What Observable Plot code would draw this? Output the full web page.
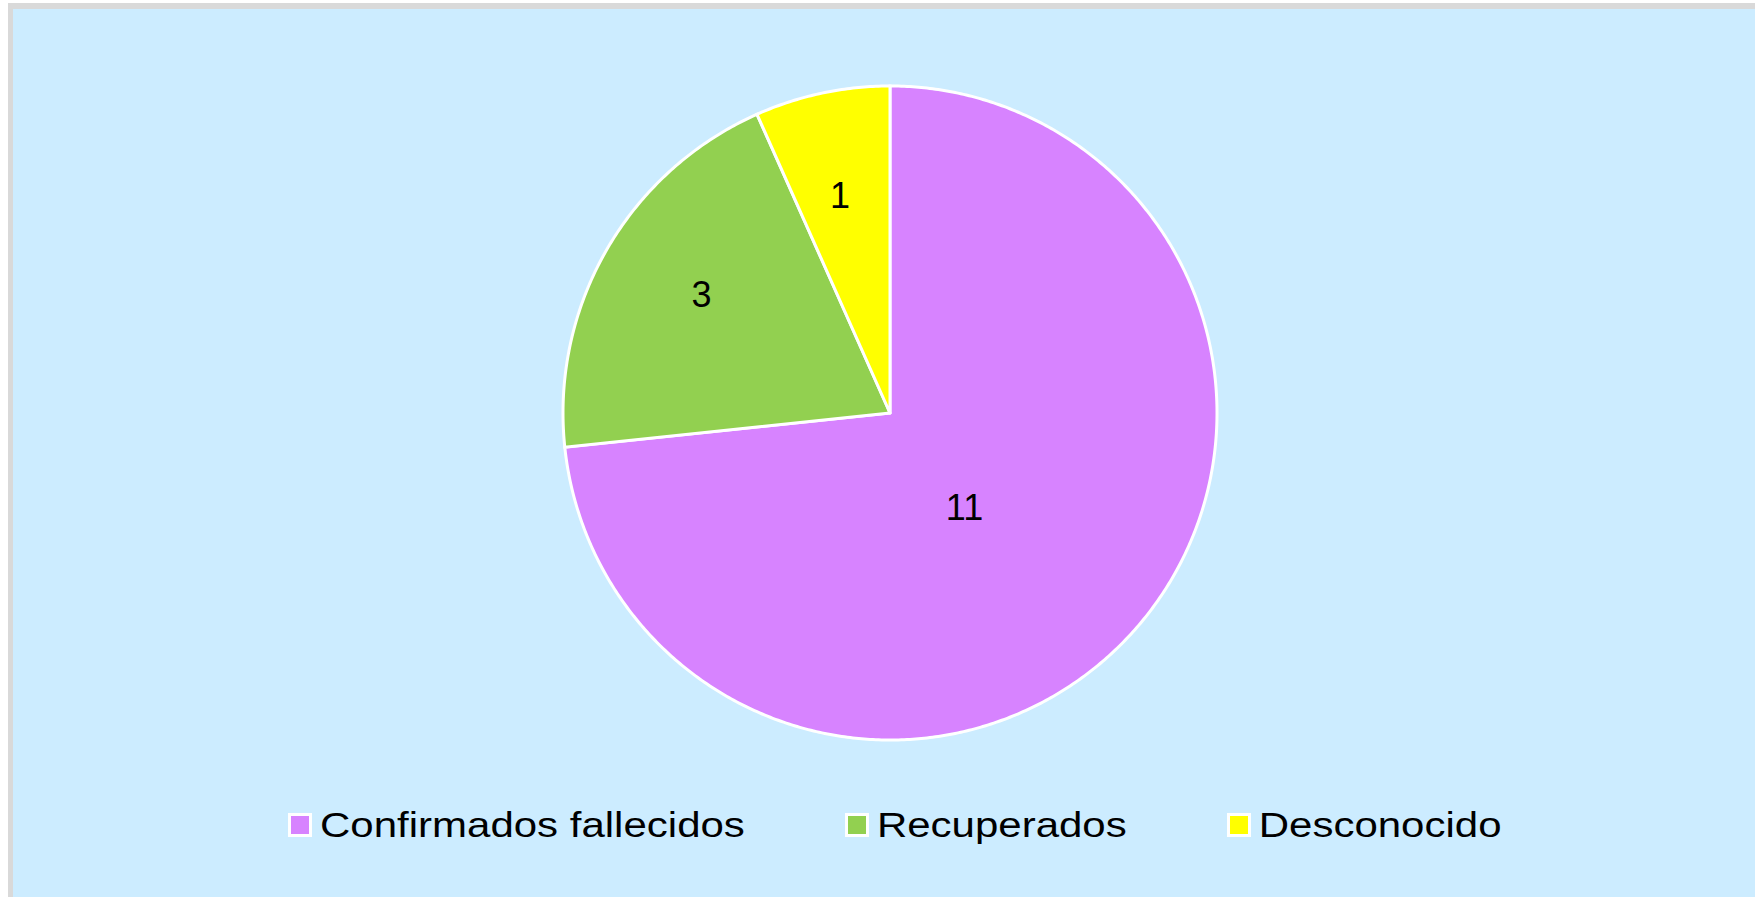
<!DOCTYPE html>
<html>
<head>
<meta charset="utf-8">
<script src="https://cdn.jsdelivr.net/npm/d3@7"></script>
<script src="https://cdn.jsdelivr.net/npm/@observablehq/plot@0.6"></script>
<style>
  html, body { margin: 0; padding: 0; background: #ffffff; }
  body { width: 1755px; height: 897px; position: relative; overflow: hidden; font-family: "Liberation Sans", Arial, sans-serif; }
  #frame { position: absolute; left: 8px; top: 3px; right: 0; bottom: 0; background: #D9D9D9; }
  #panel { position: absolute; left: 13px; top: 9px; right: 0; bottom: 0; background: #CCECFF; }
  #chart { position: absolute; left: 0; top: 0; }
  #legend { position: absolute; left: 288px; top: 804px; display: flex; align-items: center; gap: 100px; }
  .item { display: flex; align-items: center; height: 42px; }
  .sw { width: 18px; height: 18px; border: 3.5px solid #ffffff; margin-right: 8px; }
  .lbl { font-size: 42px; line-height: 42px; height: 42px; color: #000; white-space: nowrap; display: inline-block; transform: scaleY(0.84); transform-origin: 50% 50%; }
</style>
</head>
<body>
<div id="frame"></div>
<div id="panel"></div>
<div id="chart"></div>
<div id="legend"></div>
<script>
const categories = ["Confirmados fallecidos", "Recuperados", "Desconocido"];
const values = [11, 3, 1];
const colors = ["#D783FF", "#92D050", "#FFFF00"];

const table = categories.map((name, i) => ({name, value: values[i]}));
const arcs = d3.pie().sort(null).value(d => d.value)(table);

// polygon outline of each slice in unit-circle space (y up)
const polys = [];
arcs.forEach(a => {
  const name = a.data.name;
  polys.push({name, x: 0, y: 0});
  const steps = Math.max(2, Math.ceil((a.endAngle - a.startAngle) / (Math.PI / 360)));
  for (let k = 0; k <= steps; k++) {
    const t = a.startAngle + (a.endAngle - a.startAngle) * k / steps;
    polys.push({name, x: Math.sin(t), y: Math.cos(t)});
  }
  polys.push({name, x: 0, y: 0});
});

// best-fit style label placement: large slices nearer the centre, small ones further out
const labels = arcs.map(a => {
  const span = a.endAngle - a.startAngle;
  const big = span > Math.PI;
  const mid = (a.startAngle + a.endAngle) / 2 + (big ? 10 * Math.PI / 180 : 2 * Math.PI / 180 * (span > 0.6 ? 1 : -0.5));
  const rf = big ? 0.37 : 0.68;
  return {name: a.data.name, value: a.data.value, x: rf * Math.sin(mid), y: rf * Math.cos(mid)};
});

const cx = 889.5, cy = 412.5, R = 327;
const chart = Plot.plot({
  width: 1755,
  height: 790,
  margin: 0,
  style: {background: "transparent", fontFamily: "'Liberation Sans', Arial, sans-serif"},
  x: {domain: [-1, 1], range: [cx - R, cx + R], axis: null},
  y: {domain: [-1, 1], range: [cy + R, cy - R], axis: null},
  color: {domain: categories, range: colors},
  marks: [
    Plot.line(polys, {x: "x", y: "y", z: "name", fill: "name", stroke: "#ffffff", strokeWidth: 3, strokeLinejoin: "miter", strokeMiterlimit: 10}),
    Plot.text(labels, {x: "x", y: "y", text: d => String(d.value), fill: "#000000", fontSize: 36, textAnchor: "middle", lineAnchor: "middle"})
  ]
});
document.getElementById("chart").appendChild(chart);

const legend = d3.select("#legend");
categories.forEach((c, i) => {
  const it = legend.append("div").attr("class", "item");
  it.append("div").attr("class", "sw").style("background", colors[i]);
  it.append("span").attr("class", "lbl").text(c);
});
</script>
</body>
</html>
